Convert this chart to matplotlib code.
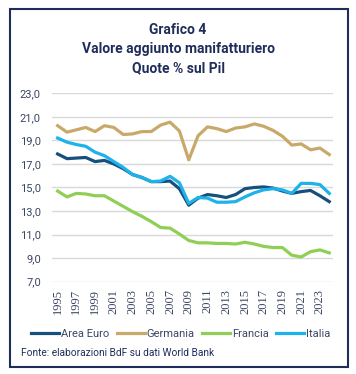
import matplotlib.pyplot as plt
from matplotlib.patches import Rectangle

years = list(range(1995, 2025))

area_euro = [17.85, 17.45, 17.5, 17.55, 17.2, 17.3, 17.0, 16.6, 16.1, 15.85,
             15.5, 15.5, 15.55, 14.9, 13.5, 14.1, 14.4, 14.3, 14.15, 14.4,
             14.9, 15.0, 15.05, 14.95, 14.7, 14.5, 14.65, 14.75, 14.3, 13.8]
germania = [20.25, 19.7, 19.9, 20.1, 19.75, 20.25, 20.1, 19.5, 19.55, 19.75,
            19.75, 20.3, 20.55, 19.8, 17.35, 19.4, 20.15, 20.0, 19.75, 20.05,
            20.15, 20.4, 20.2, 19.85, 19.35, 18.6, 18.7, 18.2, 18.35, 17.8]
francia = [14.7, 14.2, 14.5, 14.45, 14.3, 14.3, 13.85, 13.4, 12.95, 12.55,
           12.1, 11.6, 11.55, 11.05, 10.5, 10.3, 10.3, 10.25, 10.25, 10.2,
           10.35, 10.2, 10.0, 9.9, 9.9, 9.25, 9.1, 9.55, 9.7, 9.45]
italia = [19.2, 18.85, 18.65, 18.5, 18.0, 17.7, 17.2, 16.7, 16.1, 15.85,
          15.5, 15.55, 15.95, 15.4, 13.65, 14.15, 14.1, 13.75, 13.75, 13.8,
          14.2, 14.55, 14.8, 14.9, 14.8, 14.5, 15.35, 15.35, 15.25, 14.5]

yticks = [7, 9, 11, 13, 15, 17, 19, 21, 23]
xticks = list(range(1995, 2024, 2))

navy = '#1f2d5a'
txt = '#3b4663'

plt.rcParams['font.family'] = ['Roboto', 'DejaVu Sans']

fig = plt.figure(figsize=(3.56, 3.74), dpi=100)
fig.patches.append(Rectangle((10 / 356, 1 - 367 / 374), 338 / 356, 358 / 374,
                             transform=fig.transFigure, fill=False,
                             edgecolor=navy, linewidth=1.5))

fig.text(0.5, 1 - 30 / 374, 'Grafico 4', ha='center', va='center',
         fontsize=10, fontweight='bold', color=navy)
fig.text(0.5, 1 - 49 / 374, 'Valore aggiunto manifatturiero', ha='center',
         va='center', fontsize=10, fontweight='bold', color=navy)
fig.text(0.5, 1 - 68 / 374, 'Quote % sul Pil', ha='center', va='center',
         fontsize=10, fontweight='bold', color=navy)

ax = fig.add_axes([52 / 356, 1 - 281.7 / 374, 281 / 356, 188.4 / 374])
lw = 2.3
ax.plot(years, area_euro, color='#17507d', lw=lw, label='Area Euro')
ax.plot(years, germania, color='#c8a96a', lw=lw, label='Germania')
ax.plot(years, francia, color='#8fcf55', lw=lw, label='Francia')
ax.plot(years, italia, color='#1cb2ea', lw=lw, label='Italia')

ax.set_xlim(1994.4, 2024.4)
ax.set_ylim(7, 23)
ax.set_yticks(yticks)
ax.set_yticklabels([f'{v:.1f}'.replace('.', ',') for v in yticks])
ax.set_xticks(xticks)
ax.set_xticklabels([str(y) for y in xticks], rotation=90,
                   family='Liberation Serif', fontsize=9)
ax.tick_params(length=0, colors=txt)
ax.tick_params(axis='y', pad=8, labelsize=8)
ax.tick_params(axis='x', pad=5)
ax.grid(axis='y', color='#d9d9d9', lw=1)
ax.set_axisbelow(True)
for s in ax.spines.values():
    s.set_visible(False)

ax.legend(loc='center', bbox_to_anchor=(0.508, 1 - 334 / 374), bbox_transform=fig.transFigure,
          ncol=4, frameon=False, fontsize=8, handlelength=2.5, handletextpad=0.15,
          columnspacing=0.7, labelcolor=txt)

fig.text(21 / 356, 1 - 353 / 374, 'Fonte: elaborazioni BdF su dati World Bank',
         ha='left', va='center', fontsize=7.3, color=navy)

fig.savefig('out.png', dpi=100)
